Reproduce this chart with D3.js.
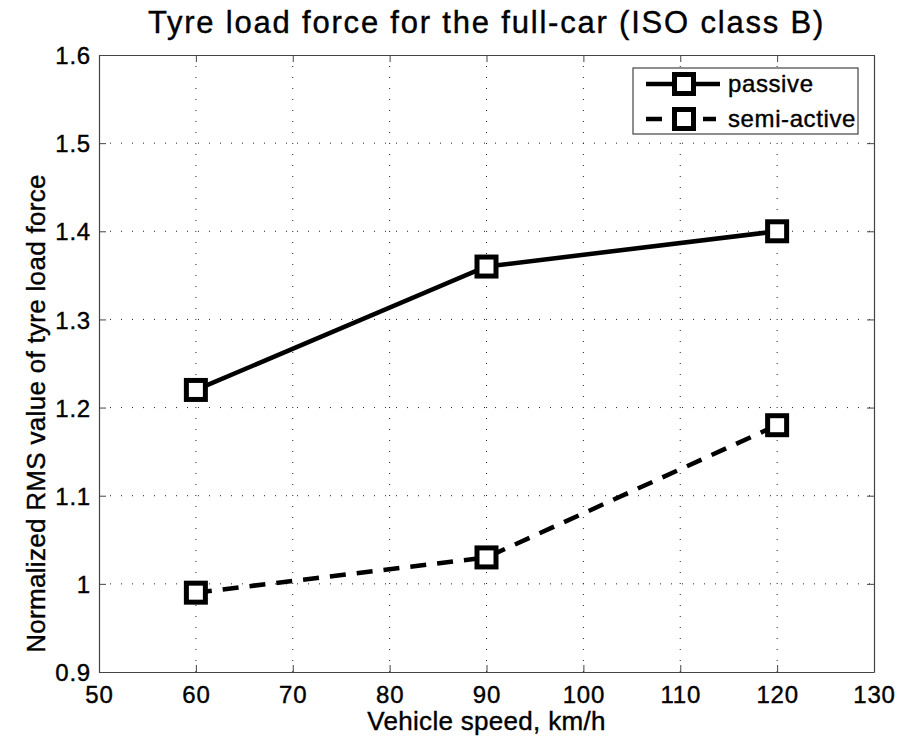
<!DOCTYPE html>
<html>
<head>
<meta charset="utf-8">
<script src="https://cdn.jsdelivr.net/npm/d3@7"></script>
<style>
  body { margin: 0; background: #fff; }
  text { font-family: "Liberation Sans", Arial, sans-serif; fill: #000; stroke: #000; stroke-width: 0.4px; }
</style>
</head>
<body>
<div id="chart"></div>
<script>
var speeds = [60, 90, 120];
var passive = [1.22, 1.36, 1.40];
var semiActive = [0.99, 1.03, 1.18];
var xTicks = [50, 60, 70, 80, 90, 100, 110, 120, 130];
var yTicks = [0.9, 1, 1.1, 1.2, 1.3, 1.4, 1.5, 1.6];
var seriesNames = ["passive", "semi-active"];

var width = 920, height = 743;
var margin = {left: 99, top: 55, right: 46, bottom: 71};
var w = width - margin.left - margin.right;
var h = height - margin.top - margin.bottom;

var svg = d3.select("#chart").append("svg")
  .attr("width", width)
  .attr("height", height);

var g = svg.append("g")
  .attr("transform", "translate(" + margin.left + "," + margin.top + ")");

var x = d3.scaleLinear().domain([50, 130]).range([0, w]);
var y = d3.scaleLinear().domain([0.9, 1.6]).range([h, 0]);

// grid
g.selectAll(".vgrid").data(xTicks.slice(1, -1)).enter().append("line")
  .attr("x1", d => x(d)).attr("x2", d => x(d))
  .attr("y1", 0).attr("y2", h)
  .attr("stroke", "#222").attr("stroke-width", 1)
  .attr("stroke-dasharray", "1,10");
g.selectAll(".hgrid").data(yTicks.slice(1, -1)).enter().append("line")
  .attr("x1", 0).attr("x2", w)
  .attr("y1", d => y(d)).attr("y2", d => y(d))
  .attr("stroke", "#222").attr("stroke-width", 1)
  .attr("stroke-dasharray", "1,10");

// axes (inward ticks, MATLAB box)
var fmt = d => String(d);
var xAxis = g.append("g").attr("transform", "translate(0," + h + ")")
  .call(d3.axisBottom(x).tickValues(xTicks).tickFormat(fmt).tickSizeInner(-7).tickSizeOuter(0).tickPadding(14));
var xTop = g.append("g")
  .call(d3.axisTop(x).tickValues(xTicks).tickFormat("").tickSizeInner(-7).tickSizeOuter(0));
var yAxis = g.append("g")
  .call(d3.axisLeft(y).tickValues(yTicks).tickFormat(fmt).tickSizeInner(-7).tickSizeOuter(0).tickPadding(8));
var yRight = g.append("g").attr("transform", "translate(" + w + ",0)")
  .call(d3.axisRight(y).tickValues(yTicks).tickFormat("").tickSizeInner(-7).tickSizeOuter(0));

[xAxis, xTop, yAxis, yRight].forEach(function(a) {
  a.selectAll("path").attr("stroke", "#444").attr("stroke-width", 1.2);
  a.selectAll("line").attr("stroke", "#444").attr("stroke-width", 1);
  a.selectAll("text").style("font-size", "24px").style("letter-spacing", "0.8px")
    .attr("fill", "#000")
    .style("font-family", "'Liberation Sans', Arial, sans-serif");
});
yAxis.selectAll("text").attr("dy", "0.36em");

// series
var line = d3.line()
  .x(d => x(d[0]))
  .y(d => y(d[1]));

var series = [
  {name: seriesNames[0], values: d3.zip(speeds, passive), dash: null},
  {name: seriesNames[1], values: d3.zip(speeds, semiActive), dash: "16,11"}
];

series.forEach(function(s) {
  g.append("path")
    .datum(s.values)
    .attr("d", line)
    .attr("fill", "none")
    .attr("stroke", "#000")
    .attr("stroke-width", 4.5)
    .attr("stroke-dasharray", s.dash);
  g.selectAll(null).data(s.values).enter().append("rect")
    .attr("x", d => x(d[0]) - 9.5)
    .attr("y", d => y(d[1]) - 9.5)
    .attr("width", 19).attr("height", 19)
    .attr("fill", "#fff")
    .attr("stroke", "#000")
    .attr("stroke-width", 5);
});

// legend
var legend = svg.append("g").attr("transform", "translate(633,68)");
legend.append("rect")
  .attr("width", 225).attr("height", 66)
  .attr("fill", "#fff").attr("stroke", "#444").attr("stroke-width", 1.2);
series.forEach(function(s, i) {
  var ly = 16 + i * 35;
  legend.append("line")
    .attr("x1", 13).attr("x2", s.dash ? 83 : 87).attr("y1", ly).attr("y2", ly)
    .attr("stroke", "#000").attr("stroke-width", 4.5)
    .attr("stroke-dasharray", s.dash ? "16,41,13" : null);
  legend.append("rect")
    .attr("x", 51 - 9.5).attr("y", ly - 9.5)
    .attr("width", 19).attr("height", 19)
    .attr("fill", "#fff").attr("stroke", "#000").attr("stroke-width", 5);
  legend.append("text")
    .attr("x", 95).attr("y", ly).attr("dy", "0.35em")
    .style("font-size", "24px").style("letter-spacing", "0.6px")
    .text(s.name);
});

// titles
svg.append("text")
  .attr("x", margin.left + w / 2).attr("y", 33)
  .attr("text-anchor", "middle")
  .style("font-size", "31px").style("letter-spacing", "1.8px")
  .text("Tyre load force for the full-car (ISO class B)");

svg.append("text")
  .attr("x", margin.left + w / 2).attr("y", 730)
  .attr("text-anchor", "middle")
  .style("font-size", "26px").style("letter-spacing", "0.3px")
  .text("Vehicle speed, km/h");

svg.append("text")
  .attr("transform", "translate(45," + (margin.top + h / 2 + 50) + ") rotate(-90)")
  .attr("text-anchor", "middle")
  .style("font-size", "26px").style("letter-spacing", "0.3px")
  .text("Normalized RMS value of tyre load force");
</script>
</body>
</html>
